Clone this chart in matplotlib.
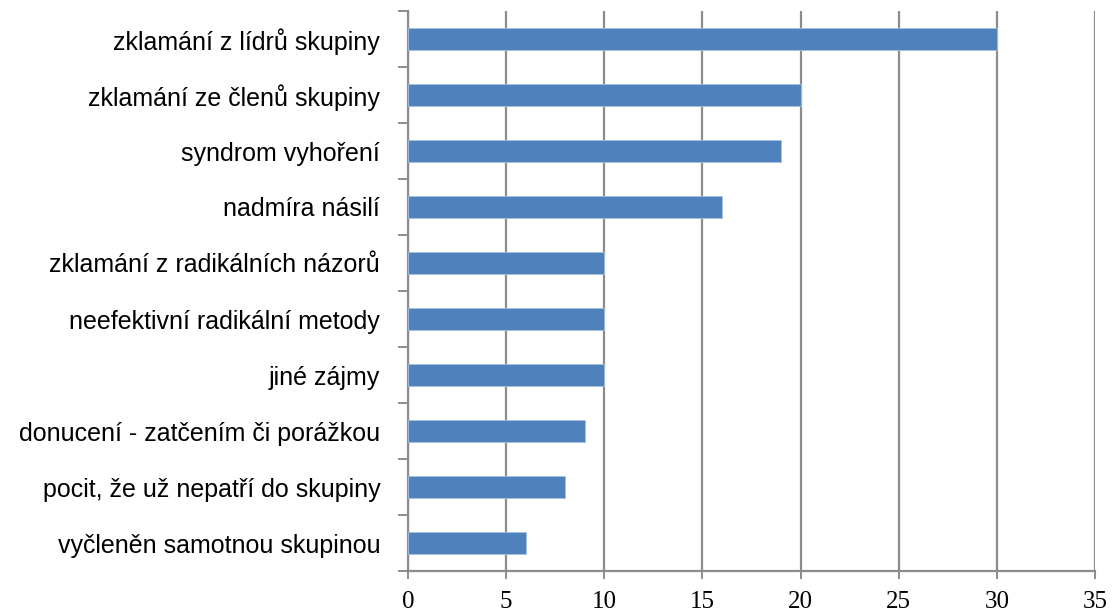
import matplotlib
matplotlib.use("Agg")
import matplotlib.pyplot as plt
import numpy as np

categories = [
    "zklamání z lídrů skupiny",
    "zklamání ze členů skupiny",
    "syndrom vyhoření",
    "nadmíra násilí",
    "zklamání z radikálních názorů",
    "neefektivní radikální metody",
    "jiné zájmy",
    "donucení - zatčením či porážkou",
    "pocit, že už nepatří do skupiny",
    "vyčleněn samotnou skupinou",
]
values = [30, 20, 19, 16, 10, 10, 10, 9, 8, 6]
x_ticks = [0, 5, 10, 15, 20, 25, 30, 35]

GRID = "#8c8c8c"
BAR = "#4f81bd"

fig = plt.figure(figsize=(11.15, 6.14), dpi=100)
ax = fig.add_axes([408 / 1115, 43 / 614, (1095 - 408) / 1115, 560 / 614])

pos = np.arange(len(categories))
ax.barh(pos, values, height=0.39, color=BAR, edgecolor="#a9c0de",
        linewidth=0.6, zorder=3)

ax.set_xlim(0, 35)
ax.set_ylim(len(categories) - 0.5, -0.5)

# gridlines
ax.set_xticks(x_ticks)
ax.xaxis.grid(True, color=GRID, linewidth=1.6, zorder=0)
ax.set_axisbelow(True)

# labels
ax.set_yticks(pos)
ax.set_yticklabels(categories, fontsize=18, family="Liberation Sans")
ax.tick_params(axis="y", which="major", length=0, pad=20)
ax.set_yticks(np.arange(-0.5, len(categories)), minor=True)
ax.tick_params(axis="y", which="minor", length=7, width=1.4, color=GRID)

ax.set_xticklabels([str(t) for t in x_ticks], fontsize=18,
                   family="Liberation Serif")
ax.tick_params(axis="x", which="major", length=5.5, width=1.4, color=GRID,
               pad=9)

for side in ["top", "right"]:
    ax.spines[side].set_visible(False)
for side in ["left", "bottom"]:
    ax.spines[side].set_color(GRID)
    ax.spines[side].set_linewidth(1.6)

fig.savefig("out.png", dpi=100, facecolor="white")
